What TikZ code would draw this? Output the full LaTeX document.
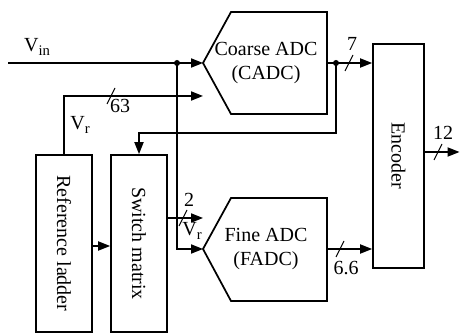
\documentclass[tikz,border=0pt]{standalone}
\usepackage{fontspec}
\setmainfont{Liberation Serif}
\usetikzlibrary{arrows.meta}
\newcommand{\sub}[1]{\raisebox{-0.35ex}{\fontsize{11}{11}\selectfont #1}}
\begin{document}
\begin{tikzpicture}[x=0.75pt,y=-0.75pt, line width=1.3pt,
  every node/.style={font=\fontsize{15}{18.5}\selectfont, inner sep=0pt},
  box/.style={draw, line width=1.3pt},
  arr/.style={-{Triangle[length=9pt,width=6.8pt]}},
  slash/.style={line width=0.8pt},
  junction/.style={circle, fill, minimum size=4.5pt, inner sep=0pt}]
\useasboundingbox (0,0) rectangle (460,334);

% blocks
\node[box, minimum width=42pt, minimum height=132.75pt] (ladder) at (64,243.5) {};
\node[rotate=-90] (laddertext) at (ladder.center) {Reference ladder};
\node[box, minimum width=42pt, minimum height=132.75pt] (switch) at (139,243.5) {};
\node[rotate=-90] (switchtext) at (switch.center) {Switch matrix};
\node[box, minimum width=38.25pt, minimum height=168pt] (enc) at (398.5,156) {};
\node[rotate=-90] (enctext) at (enc.center) {Encoder};

% ADC shapes
\coordinate (cadcin) at (203,63);
\coordinate (cadcout) at (327,63);
\draw (cadcin) -- (231,12) -- (327,12) -- (327,114) -- (231,114) -- cycle;
\node[align=center] (cadctext) at (266,63) {Coarse ADC\\(CADC)};
\coordinate (fadcin) at (203,249);
\coordinate (fadcout) at (327,249);
\draw (fadcin) -- (231,198) -- (327,198) -- (327,301) -- (231,301) -- cycle;
\node[align=center] (fadctext) at (266,249) {Fine ADC\\(FADC)};

% connectors
\coordinate (vinstart) at (8,63);
\node[junction] (d1) at (177,63) {};
\node[junction] (d2) at (336,63) {};
\draw[arr] (vinstart) -- (cadcin);
\draw[arr] (d1.center) -- (d1.center |- fadcin) -- (fadcin);
\coordinate (r63) at (203,96);
\draw[arr] (ladder.north) -- (ladder.north |- r63) -- (r63);
\coordinate (fbcorner) at (336,133);
\draw[arr] (d2.center) -- (fbcorner) -| (switch.north);
\coordinate (swout) at (203,218);
\draw[arr] (switch.east |- swout) -- (swout);
\coordinate (lsy) at (0,246);
\draw[arr] (ladder.east |- lsy) -- (switch.west |- lsy);
\draw[arr] (cadcout) -- (enc.west |- cadcout);
\draw[arr] (fadcout) -- (enc.west |- fadcout);
\coordinate (encend) at (459.5,152);
\draw[arr] (enc.east |- encend) -- (encend);

% bus slashes
\draw[slash] (111,96) ++(-4,8) -- ++(8,-16);
\draw[slash] (349,63) ++(-4,8) -- ++(8,-16);
\draw[slash] (340,249) ++(-4,8) -- ++(8,-16);
\draw[slash] (438,152) ++(-4,8) -- ++(8,-16);
\draw[slash] (183,218) ++(-4,8) -- ++(8,-16);

% labels
\node (vinlabel) at (37,47) {V\sub{in}};
\node (vrlabel) at (80,125) {V\sub{r}};
\node (l63) at (120,106) {63};
\node (l7) at (352,44) {7};
\node (l12) at (443,133) {12};
\node (l66) at (346,268) {6.6};
\node (l2) at (189,200) {2};
\node (vrlabel2) at (192,231) {V\sub{r}};
\end{tikzpicture}
\end{document}
